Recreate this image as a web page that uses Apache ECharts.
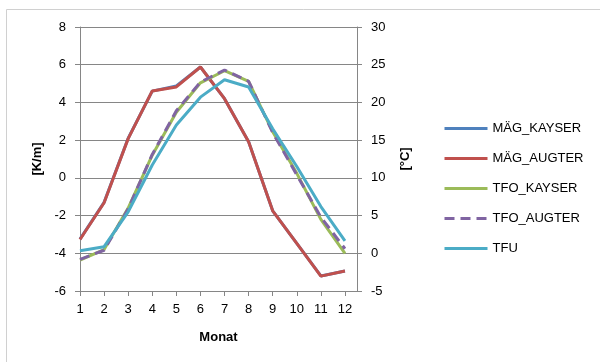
<!DOCTYPE html>
<html><head><meta charset="utf-8">
<script src="https://cdn.jsdelivr.net/npm/echarts@6/dist/echarts.min.js"></script>
<style>html,body{margin:0;padding:0;background:#fff}#c{width:600px;height:362px}</style>
</head><body><div id="c"></div>
<script>
const months = [1,2,3,4,5,6,7,8,9,10,11,12];
const magKayser = [-3.25,-1.3,2.1,4.6,4.87,5.88,4.2,1.92,-1.75,-3.48,-5.2,-4.94];
const magAugter = [-3.27,-1.32,2.08,4.61,4.82,5.88,4.2,1.91,-1.75,-3.48,-5.21,-4.94];
const tfoKayser = [-0.9,0.5,6.0,13.0,18.7,22.6,24.2,22.8,16.1,10.6,4.5,0.0];
const tfoAugter = [-0.8,0.4,5.9,13.1,18.9,22.7,24.3,22.8,16.0,10.4,4.8,0.6];
const tfu = [0.33,0.87,5.5,11.7,17.0,20.7,23.0,22.05,16.5,11.5,6.2,1.65];
const leftTicks = {min:-6,max:8,interval:2};
const rightTicks = {min:-5,max:30,interval:5};
const names = ['MÄG_KAYSER','MÄG_AUGTER','TFO_KAYSER','TFO_AUGTER','TFU'];
const colors = ['#4F81BD','#C0504D','#9BBB59','#8064A2','#4BACC6'];

const pair = arr => months.map((m,i)=>[m,arr[i]]);
const FONT = 'Liberation Sans';
const gray = '#868686';
const chart = echarts.init(document.getElementById('c'));
chart.setOption({
  animation:false,
  backgroundColor:'#fff',
  textStyle:{fontFamily:FONT,color:'#000'},
  graphic:[{type:'rect',shape:{x:6.5,y:9.5,width:700,height:400},style:{fill:'none',stroke:'#d0d0d0',lineWidth:1},z:-1}],
  grid:{left:80,right:243,top:27,bottom:71},
  legend:{
    orient:'vertical',left:438,top:117,itemWidth:43,itemHeight:12,itemGap:17,
    itemStyle:{opacity:0},
    lineStyle:{width:3},
    textStyle:{fontFamily:FONT,fontSize:13,color:'#000'},
    data:names
  },
  xAxis:{
    type:'value',min:1,max:12.5,interval:1,
    name:'Monat',nameLocation:'middle',nameGap:40,
    nameTextStyle:{fontFamily:FONT,fontSize:13,fontWeight:'bold',color:'#000'},
    axisLine:{onZero:false,lineStyle:{color:gray}},
    axisTick:{show:true,length:5,lineStyle:{color:gray}},
    axisLabel:{margin:12,fontSize:13,color:'#000',showMaxLabel:false,
      formatter:v=>Number.isInteger(v)?String(v):''},
    splitLine:{show:false}
  },
  yAxis:[{
    type:'value',min:leftTicks.min,max:leftTicks.max,interval:leftTicks.interval,
    name:'[K/m]',nameLocation:'middle',nameGap:36,nameRotate:90,
    nameTextStyle:{fontFamily:FONT,fontSize:13,fontWeight:'bold',color:'#000'},
    axisLine:{show:true,onZero:false,lineStyle:{color:gray}},
    axisTick:{show:true,length:5,lineStyle:{color:gray}},
    axisLabel:{margin:14,fontSize:13,color:'#000'},
    splitLine:{show:true,lineStyle:{color:gray,width:1}}
  },{
    type:'value',min:rightTicks.min,max:rightTicks.max,interval:rightTicks.interval,position:'right',
    name:'[°C]',nameLocation:'middle',nameGap:42,nameRotate:90,
    nameTextStyle:{fontFamily:FONT,fontSize:13,fontWeight:'bold',color:'#000'},
    axisLine:{show:true,onZero:false,lineStyle:{color:gray}},
    axisTick:{show:true,length:5,lineStyle:{color:gray}},
    axisLabel:{margin:14,fontSize:13,color:'#000'},
    splitLine:{show:false}
  }],
  series:[
    {name:names[0],type:'line',yAxisIndex:0,data:pair(magKayser),symbol:'none',lineStyle:{color:colors[0],width:3},itemStyle:{color:colors[0]}},
    {name:names[1],type:'line',yAxisIndex:0,data:pair(magAugter),symbol:'none',lineStyle:{color:colors[1],width:3},itemStyle:{color:colors[1]}},
    {name:names[2],type:'line',yAxisIndex:1,data:pair(tfoKayser),symbol:'none',lineStyle:{color:colors[2],width:3},itemStyle:{color:colors[2]}},
    {name:names[3],type:'line',yAxisIndex:1,data:pair(tfoAugter),symbol:'none',lineStyle:{color:colors[3],width:3,type:[10,6]},itemStyle:{color:colors[3]}},
    {name:names[4],type:'line',yAxisIndex:1,data:pair(tfu),symbol:'none',lineStyle:{color:colors[4],width:3},itemStyle:{color:colors[4]}}
  ]
});
</script></body></html>
